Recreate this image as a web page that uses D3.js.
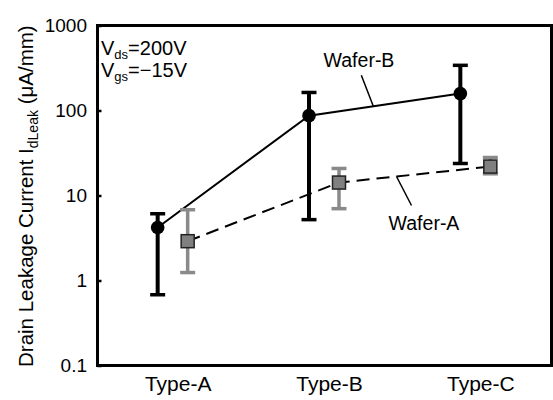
<!DOCTYPE html>
<html>
<head>
<meta charset="utf-8">
<script src="https://cdn.jsdelivr.net/npm/d3@7"></script>
<style>
  html, body { margin: 0; padding: 0; background: #fff; }
  svg text { font-family: "Liberation Sans", Arial, sans-serif; fill: #000; }
</style>
</head>
<body>
<svg id="chart" width="553" height="400"></svg>
<script>
// Leakage current per device type for two wafers (µA/mm)
const categories = ["Type-A", "Type-B", "Type-C"];
const waferB     = [4.2, 87, 158];
const waferBLow  = [0.68, 5.2, 23.8];
const waferBHigh = [6.1, 163, 340];
const waferA     = [2.9, 14.2, 21.9];
const waferALow  = [1.24, 7.0, 18];
const waferAHigh = [6.8, 20.8, 28];
const yTicks     = [0.1, 1, 10, 100, 1000];

const svg = d3.select("#chart");
const frame = { left: 97.5, right: 551.5, top: 25.5, bottom: 365.5 };

const x = d3.scaleBand().domain(categories).range([frame.left, frame.right]).padding(0);
const y = d3.scaleLog().domain([0.1, 1000]).range([frame.bottom, frame.top]);

const cx = d => x(d) + x.bandwidth() / 2;
const offB = -15.5, offA = 14.5;

// y axis with inward ticks, labels on the left
const yAxis = d3.axisLeft(y).tickValues(yTicks).tickSize(-4)
  .tickFormat(d => d >= 1 ? d3.format("d")(d) : String(d));
const gy = svg.append("g").attr("transform", `translate(${frame.left},0)`).call(yAxis);
gy.select(".domain").remove();
gy.selectAll(".tick line").attr("stroke", "#000").attr("stroke-width", 2.5);
gy.selectAll(".tick text").attr("x", -10.5).attr("font-size", 19)
  .attr("font-family", "Liberation Sans, Arial, sans-serif").attr("fill", "#000");

// category labels
const xAxis = d3.axisBottom(x).tickSize(0).tickPadding(0);
const gx = svg.append("g").attr("transform", `translate(5,${frame.bottom})`).call(xAxis);
gx.select(".domain").remove();
gx.selectAll(".tick text").attr("y", 25).attr("dy", "0").attr("font-size", 21)
  .attr("font-family", "Liberation Sans, Arial, sans-serif").attr("fill", "#000");

// series lines
const rowsB = categories.map((c, i) => ({ c, v: waferB[i], lo: waferBLow[i], hi: waferBHigh[i] }));
const rowsA = categories.map((c, i) => ({ c, v: waferA[i], lo: waferALow[i], hi: waferAHigh[i] }));

const lineB = d3.line().x(d => cx(d.c) + offB).y(d => y(d.v));
const lineA = d3.line().x(d => cx(d.c) + offA).y(d => y(d.v));

svg.append("path").datum(rowsA).attr("d", lineA)
  .attr("fill", "none").attr("stroke", "#000").attr("stroke-width", 2)
  .attr("stroke-dasharray", "13,7");
svg.append("path").datum(rowsB).attr("d", lineB)
  .attr("fill", "none").attr("stroke", "#000").attr("stroke-width", 2);

// error bars
function errorBars(rows, off, color, width) {
  const g = svg.append("g").attr("stroke", color).attr("fill", "none");
  rows.forEach(d => {
    const px = cx(d.c) + off;
    g.append("line").attr("x1", px).attr("x2", px).attr("y1", y(d.lo)).attr("y2", y(d.hi))
      .attr("stroke-width", width);
    [d.lo, d.hi].forEach(v => {
      g.append("line").attr("x1", px - 7.5).attr("x2", px + 7.5).attr("y1", y(v)).attr("y2", y(v))
        .attr("stroke-width", 3.5);
    });
  });
}
errorBars(rowsA, offA, "#8a8a8a", 3.5);
errorBars(rowsB, offB, "#000", 4);

// markers
svg.append("g").selectAll("rect").data(rowsA).join("rect")
  .attr("x", d => cx(d.c) + offA - 6.5).attr("y", d => y(d.v) - 6.5)
  .attr("width", 13).attr("height", 13)
  .attr("fill", "#808080").attr("stroke", "#222").attr("stroke-width", 1.5);
svg.append("g").selectAll("circle").data(rowsB).join("circle")
  .attr("cx", d => cx(d.c) + offB).attr("cy", d => y(d.v)).attr("r", 6.8)
  .attr("fill", "#000");

// frame
svg.append("rect").attr("x", frame.left).attr("y", frame.top)
  .attr("width", frame.right - frame.left).attr("height", frame.bottom - frame.top)
  .attr("fill", "none").attr("stroke", "#000").attr("stroke-width", 3);

// series labels with leader lines anchored on the series path
function pointOn(rows, off, i, t) {
  const a = rows[i], b = rows[i + 1];
  const x0 = cx(a.c) + off, x1 = cx(b.c) + off;
  const y0 = y(a.v), y1 = y(b.v);
  return [x0 + (x1 - x0) * t, y0 + (y1 - y0) * t];
}
const pB = pointOn(rowsB, offB, 1, 0.425);
svg.append("line").attr("x1", pB[0]).attr("y1", pB[1]).attr("x2", pB[0] - 12).attr("y2", pB[1] - 31)
  .attr("stroke", "#000").attr("stroke-width", 1.5);
svg.append("text").attr("x", 359).attr("y", 67).attr("text-anchor", "middle")
  .attr("font-size", 19.5).text("Wafer-B");

const pA = pointOn(rowsA, offA, 1, 0.38);
svg.append("line").attr("x1", pA[0]).attr("y1", pA[1]).attr("x2", pA[0] + 15).attr("y2", pA[1] + 29)
  .attr("stroke", "#000").attr("stroke-width", 1.5);
svg.append("text").attr("x", 424).attr("y", 230).attr("text-anchor", "middle")
  .attr("font-size", 19.5).text("Wafer-A");

// bias conditions
const cond = svg.append("g").attr("font-size", 20);
const t1 = cond.append("text").attr("x", 101).attr("y", 55);
t1.append("tspan").text("V");
t1.append("tspan").attr("font-size", 13).attr("dy", 4).text("ds");
t1.append("tspan").attr("dy", -4).text("=200V");
const t2 = cond.append("text").attr("x", 101).attr("y", 77);
t2.append("tspan").text("V");
t2.append("tspan").attr("font-size", 13).attr("dy", 4).text("gs");
t2.append("tspan").attr("dy", -4).text("=\u221215V");

// y axis title
const yt = svg.append("text").attr("transform", "translate(33,367) rotate(-90)")
  .attr("font-size", 20.5);
yt.append("tspan").text("Drain Leakage Current I");
yt.append("tspan").attr("font-size", 14).attr("dy", 5).text("dLeak");
yt.append("tspan").attr("dy", -5).text(" (\u03bcA/mm)");
</script>
</body>
</html>
